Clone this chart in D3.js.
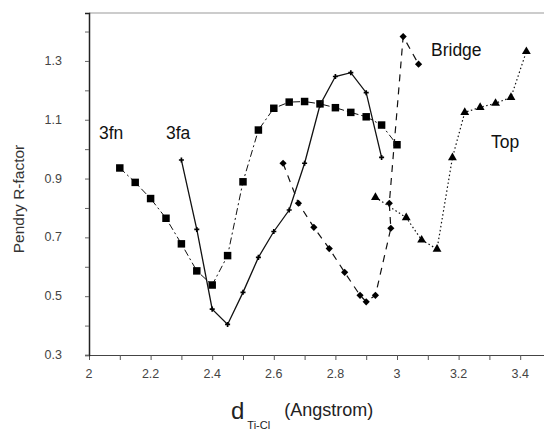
<!DOCTYPE html>
<html>
<head>
<meta charset="utf-8">
<script src="https://cdn.jsdelivr.net/npm/d3@7"></script>
<style>
  body { margin: 0; background: #fff; }
  text { font-family: "Liberation Sans", Arial, sans-serif; }
</style>
</head>
<body>
<script>
// data
var fnX = [2.1, 2.15, 2.2, 2.25, 2.3, 2.35, 2.4, 2.45, 2.5, 2.55, 2.6, 2.65, 2.7, 2.75, 2.8, 2.85, 2.9, 2.95, 3.0];
var fnY = [0.936, 0.887, 0.832, 0.765, 0.678, 0.586, 0.538, 0.638, 0.889, 1.065, 1.139, 1.16, 1.162, 1.154, 1.141, 1.125, 1.11, 1.082, 1.015];

var faX = [2.3, 2.35, 2.4, 2.45, 2.5, 2.55, 2.6, 2.65, 2.7, 2.75, 2.8, 2.85, 2.9, 2.95];
var faY = [0.963, 0.727, 0.456, 0.404, 0.513, 0.632, 0.72, 0.793, 0.952, 1.15, 1.247, 1.26, 1.192, 0.972];

var brX = [2.63, 2.68, 2.73, 2.78, 2.83, 2.88, 2.9, 2.93, 2.98, 2.975, 3.02, 3.07];
var brY = [0.952, 0.816, 0.734, 0.662, 0.581, 0.503, 0.481, 0.503, 0.731, 0.816, 1.383, 1.289];

var topX = [2.93, 3.03, 3.08, 3.13, 3.18, 3.22, 3.27, 3.32, 3.37, 3.42];
var topY = [0.836, 0.767, 0.691, 0.66, 0.971, 1.125, 1.142, 1.156, 1.176, 1.332];

var xTicks = [2, 2.2, 2.4, 2.6, 2.8, 3, 3.2, 3.4];
var yTicks = [0.3, 0.5, 0.7, 0.9, 1.1, 1.3];

function draw() {
    var w = 544, h = 430;
    var svg = d3.select("body").append("svg")
        .attr("width", w)
        .attr("height", h);

    var x = d3.scaleLinear().domain([2, 3.5]).range([89, 551]);
    var y = d3.scaleLinear().domain([0.3, 1.463]).range([355, 13]);

    // frame top (faint)
    svg.append("line")
        .attr("x1", 89).attr("x2", w)
        .attr("y1", y(1.463)).attr("y2", y(1.463))
        .attr("stroke", "#999").attr("stroke-width", 1);

    // axes
    var xMinor = d3.range(2, 3.51, 0.1);
    var yMinor = d3.range(0.3, 1.46, 0.1);

    var xAxis = svg.append("g")
        .attr("transform", "translate(0," + y(0.3) + ")")
        .call(d3.axisBottom(x).tickValues(xMinor).tickSize(5).tickFormat(""));
    xAxis.select(".domain").attr("stroke", "#444");
    xAxis.selectAll(".tick line").attr("stroke", "#555");

    svg.append("g").selectAll("text")
        .data(xTicks)
        .enter().append("text")
        .attr("x", function(d) { return x(d); })
        .attr("y", 378)
        .attr("text-anchor", "middle")
        .attr("font-size", 12.5)
        .attr("fill", "#444")
        .text(function(d) { return d3.format("~g")(d); });

    var yAxis = svg.append("g")
        .attr("transform", "translate(" + x(2) + ",0)")
        .call(d3.axisLeft(y).tickValues(yMinor).tickSize(4).tickFormat(""));
    yAxis.select(".domain").attr("stroke", "#222").attr("stroke-width", 1.5);
    yAxis.selectAll(".tick line").attr("stroke", "#666");

    svg.append("g").selectAll("text")
        .data(yTicks)
        .enter().append("text")
        .attr("x", 62)
        .attr("y", function(d) { return y(d) + 4; })
        .attr("text-anchor", "end")
        .attr("font-size", 12.5)
        .attr("fill", "#444")
        .text(function(d) { return d3.format(".1f")(d); });

    // series
    function pts(xs, ys) {
        return xs.map(function(v, i) { return [v, ys[i]]; });
    }
    var line = d3.line()
        .x(function(d) { return x(d[0]); })
        .y(function(d) { return y(d[1]); });

    var series = [
        { data: pts(fnX, fnY), dash: "7,3,2,3", width: 1, sym: d3.symbolSquare, size: 56, rot: 0 },
        { data: pts(faX, faY), dash: null, width: 1.3, sym: d3.symbolCross, size: 14, rot: 0 },
        { data: pts(brX, brY), dash: "7,6", width: 1.2, sym: d3.symbolSquare, size: 26, rot: 45 },
        { data: pts(topX, topY), dash: "1.5,2.5", width: 1.2, sym: d3.symbolTriangle, size: 34, rot: 0 }
    ];

    series.forEach(function(s) {
        svg.append("path")
            .datum(s.data)
            .attr("d", line)
            .attr("fill", "none")
            .attr("stroke", "#111")
            .attr("stroke-width", s.width)
            .attr("stroke-dasharray", s.dash);

        svg.append("g").selectAll("path")
            .data(s.data)
            .enter().append("path")
            .attr("d", d3.symbol().type(s.sym).size(s.size))
            .attr("transform", function(d) {
                return "translate(" + x(d[0]) + "," + y(d[1]) + ") rotate(" + s.rot + ")";
            })
            .attr("fill", "#000");
    });

    // series labels
    var labels = [
        { t: "3fn", x: 99, y: 139 },
        { t: "3fa", x: 166, y: 139 },
        { t: "Bridge", x: 431, y: 56 },
        { t: "Top", x: 491, y: 148 }
    ];
    svg.append("g").selectAll("text")
        .data(labels)
        .enter().append("text")
        .attr("x", function(d) { return d.x; })
        .attr("y", function(d) { return d.y; })
        .attr("font-size", 17.5)
        .attr("fill", "#111")
        .text(function(d) { return d.t; });

    // axis titles
    svg.append("text")
        .attr("transform", "translate(24,199) rotate(-90)")
        .attr("text-anchor", "middle")
        .attr("font-size", 15.5)
        .attr("fill", "#333")
        .text("Pendry R-factor");

    var xt = svg.append("text")
        .attr("x", 231)
        .attr("y", 419)
        .attr("fill", "#222");
    xt.append("tspan").attr("font-size", 24).text("d");
    xt.append("tspan").attr("font-size", 11).attr("dx", 3).attr("dy", 10).text("Ti-Cl");
    xt.append("tspan").attr("font-size", 18).attr("dx", 14).attr("dy", -13).text("(Angstrom)");
}
window.onload = draw;
</script>
</body>
</html>
